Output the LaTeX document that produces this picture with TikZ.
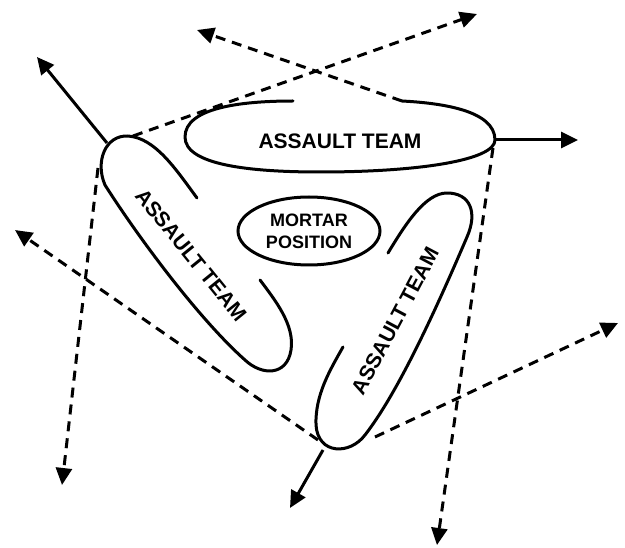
\documentclass[tikz,border=0pt]{standalone}
\usepackage{fontspec}
\setmainfont{Liberation Sans}
\usetikzlibrary{arrows.meta,shapes.geometric}
\begin{document}
\begin{tikzpicture}[x=1pt,y=-1pt,
  outline/.style={line width=3pt, line cap=round, line join=round},
  solidarrow/.style={line width=3pt, -{Triangle[length=17pt,width=16pt]}},
  dasharrow/.style={line width=3pt, dash pattern=on 10pt off 7pt, -{Triangle[length=17pt,width=16pt]}},
  teamlabel/.style={font=\fontsize{21}{24}\selectfont\bfseries, inner sep=0pt},
  mortarlabel/.style={ellipse, draw, line width=3pt, minimum width=142pt, minimum height=68pt, inner sep=0pt, align=center, font=\fontsize{18}{22}\selectfont\bfseries},
]
\useasboundingbox (0,0) rectangle (625,548);

% team outlines (open loops)
\draw[outline] (293,101) .. controls (240,101) and (185,108) .. (185,137)
  .. controls (185,165) and (250,172) .. (320,172)
  .. controls (420,172) and (495,160) .. (495,140)
  .. controls (495,110) and (440,103) .. (402,101);
\draw[outline] (197,198) .. controls (175,168) and (155,138) .. (128,136)
  .. controls (105,135) and (95,162) .. (105,185)
  .. controls (140,240) and (200,320) .. (245,360)
  .. controls (262,376) and (287,376) .. (291,350)
  .. controls (295,325) and (275,300) .. (260,280);
\draw[outline] (388,253) .. controls (405,225) and (425,193) .. (447,193)
  .. controls (470,193) and (478,212) .. (467,237)
  .. controls (440,300) and (400,390) .. (365,435)
  .. controls (350,455) and (318,455) .. (316,425)
  .. controls (315,395) and (330,370) .. (343,347);

% labels
\node[teamlabel] (topteam) at (340,141) {ASSAULT TEAM};
\node[teamlabel, rotate=-51] (leftteam) at (191,255) {ASSAULT TEAM};
\node[teamlabel, rotate=62] (rightteam) at (395,321) {ASSAULT TEAM};
\node[mortarlabel] (mortar) at (309,231) {MORTAR\\POSITION};

% anchor points
\coordinate (lt) at (107,143);
\coordinate (lta) at (37,57);
\coordinate (tr) at (495,140);
\coordinate (tra) at (578,140);
\coordinate (rb) at (323,450);
\coordinate (rba) at (290,508);

\coordinate (ll) at (98,168);
\coordinate (lla) at (62,485);
\coordinate (rl) at (318,440);
\coordinate (rla) at (15,230);
\coordinate (trd) at (493,148);
\coordinate (trda) at (437,545);
\coordinate (rr) at (375,437);
\coordinate (rra) at (618,323);
\coordinate (tg) at (402,101);
\coordinate (tga) at (197,30);
\coordinate (lu) at (133,136);
\coordinate (lua) at (477,14);

% solid arrows
\draw[solidarrow] (lt) -- (lta);
\draw[solidarrow] (tr) -- (tra);
\draw[solidarrow] (rb) -- (rba);

% dashed arrows
\draw[dasharrow] (ll) -- (lla);
\draw[dasharrow] (rl) -- (rla);
\draw[dasharrow] (trd) -- (trda);
\draw[dasharrow] (rr) -- (rra);
\draw[dasharrow] (tg) -- (tga);
\draw[dasharrow] (lu) -- (lua);
\end{tikzpicture}
\end{document}
